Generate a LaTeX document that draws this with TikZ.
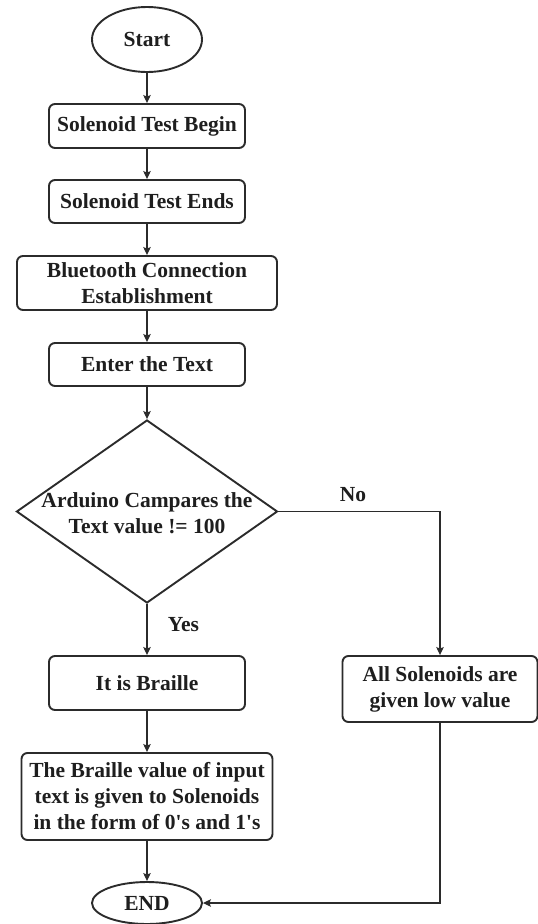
\documentclass[tikz,border=0pt]{standalone}
\usepackage{fontspec}
\setmainfont{Liberation Serif}
\usetikzlibrary{shapes.geometric,arrows.meta}
\definecolor{ln}{HTML}{2B2B2B}
\definecolor{txt}{HTML}{1E1E1E}
\begin{document}
\begin{tikzpicture}[x=1pt,y=-1pt,
  every node/.style={font=\fontsize{21.5}{26}\selectfont\bfseries, text=txt},
  box/.style={draw=ln, line width=1.9pt, rounded corners=6pt, minimum width=196pt, inner sep=0pt, align=center},
  term/.style={draw=ln, line width=1.9pt, ellipse, minimum width=110pt, inner sep=0pt},
  dec/.style={draw=ln, line width=1.9pt, diamond, minimum width=261pt, minimum height=183pt, inner sep=0pt},
  conn/.style={draw=ln, line width=1.1pt, -{Stealth[length=8pt,width=7.5pt,inset=1.5pt]}},
  lbl/.style={inner sep=0pt}]
\useasboundingbox (0,0) rectangle (538,924);
\node[term, minimum height=65pt] (start) at (147,39.5) {Start};
\node[box, minimum height=44pt] (begin) at (147,126) {Solenoid Test Begin};
\node[box, minimum height=43pt] (ends) at (147,201.5) {Solenoid Test Ends};
\node[box, minimum width=260pt, minimum height=54pt] (bt) at (147,283) {Bluetooth Connection\\Establishment};
\node[box, minimum height=43pt] (enter) at (147,364.5) {Enter the Text};
\node[dec] (dec) at (147,511.5) {};
\node[align=center, inner sep=0pt] (dectext) at (147,513) {Arduino Campares the\\Text value != 100};
\node[box, minimum height=54pt] (braille) at (147,683) {It is Braille};
\node[box, minimum width=251pt, minimum height=87pt] (bval) at (147,796.5) {The Braille value of input\\text is given to Solenoids\\in the form of 0\textquotesingle s and 1\textquotesingle s};
\node[box, minimum width=195pt, minimum height=66pt] (low) at (440,689) {All Solenoids are\\given low value};
\node[term, minimum height=42pt] (end) at (147,903) {END};
\coordinate (c1) at (440,511.5);
\coordinate (c2) at (440,903);
\draw[conn] (start) -- (begin);
\draw[conn] (begin) -- (ends);
\draw[conn] (ends) -- (bt);
\draw[conn] (bt) -- (enter);
\draw[conn] (enter) -- (dec);
\draw[conn] (dec) -- (braille);
\draw[conn] (braille) -- (bval);
\draw[conn] (bval) -- (end);
\draw[conn] (dec.east) -- (c1) -- (low);
\draw[conn] (low) -- (c2) -- (end.east);
\node[lbl] (no) at (353,495) {No};
\node[lbl] (yes) at (183.5,625) {Yes};
\end{tikzpicture}
\end{document}
